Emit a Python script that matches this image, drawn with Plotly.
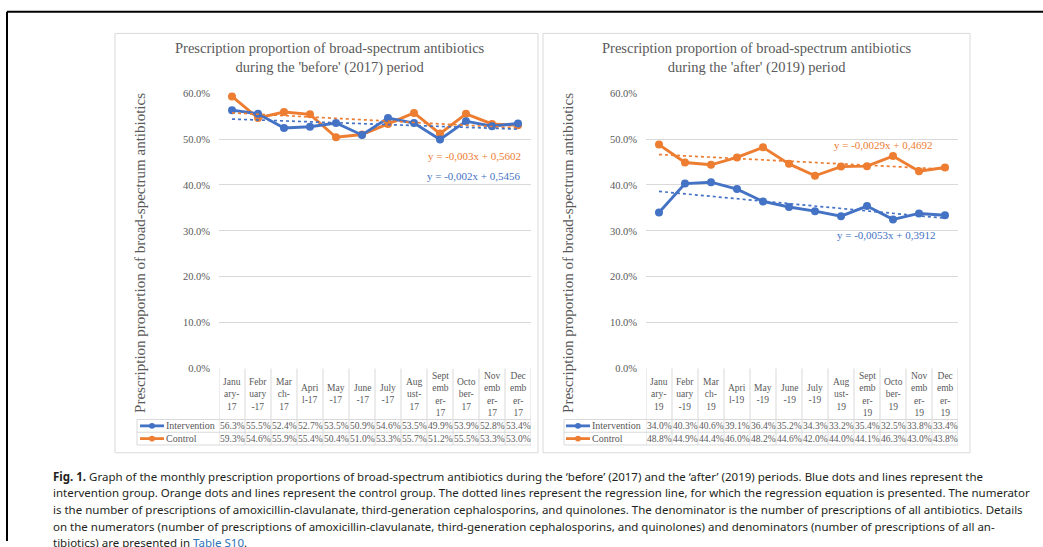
import plotly.graph_objects as go

# ---- data -------------------------------------------------------------
months_2017 = ["January-17", "February-17", "March-17", "April-17", "May-17", "June-17",
               "July-17", "August-17", "September-17", "October-17", "November-17", "December-17"]
months_2019 = [m.replace("-17", "-19") for m in months_2017]

# wrapped header labels as they appear in the data table under each chart
header_2017 = ["Janu<br>ary-<br>17", "Febr<br>uary<br>-17", "Mar<br>ch-<br>17", "Apri<br>l-17",
               "May<br>-17", "June<br>-17", "July<br>-17", "Aug<br>ust-<br>17",
               "Sept<br>emb<br>er-<br>17", "Octo<br>ber-<br>17", "Nov<br>emb<br>er-<br>17",
               "Dec<br>emb<br>er-<br>17"]
header_2019 = [h.replace("17", "19") for h in header_2017]

intervention_2017 = [56.3, 55.5, 52.4, 52.7, 53.5, 50.9, 54.6, 53.5, 49.9, 53.9, 52.8, 53.4]
control_2017 = [59.3, 54.6, 55.9, 55.4, 50.4, 51.0, 53.3, 55.7, 51.2, 55.5, 53.3, 53.0]
intervention_2019 = [34.0, 40.3, 40.6, 39.1, 36.4, 35.2, 34.3, 33.2, 35.4, 32.5, 33.8, 33.4]
control_2019 = [48.8, 44.9, 44.4, 46.0, 48.2, 44.6, 42.0, 44.0, 44.1, 46.3, 43.0, 43.8]

# linear trend coefficients (x = month number 1..12)
trend_2017 = {"Intervention": (-0.002, 0.5456), "Control": (-0.003, 0.5602)}
trend_2019 = {"Intervention": (-0.0053, 0.3912), "Control": (-0.0029, 0.4692)}

titles = ["Prescription proportion of broad-spectrum antibiotics<br>during the 'before' (2017) period",
          "Prescription proportion of broad-spectrum antibiotics<br>during the 'after' (2019) period"]
y_title = "Prescription proportion of broad-spectrum antibiotics"
y_ticks = [0.0, 0.1, 0.2, 0.3, 0.4, 0.5, 0.6]

caption_lines = [
    "<b>Fig. 1.</b> Graph of the monthly prescription proportions of broad-spectrum antibiotics during the \u2018before\u2019 (2017) and the \u2018after\u2019 (2019) periods. Blue dots and lines represent the",
    "intervention group. Orange dots and lines represent the control group. The dotted lines represent the regression line, for which the regression equation is presented. The numerator",
    "is the number of prescriptions of amoxicillin-clavulanate, third-generation cephalosporins, and quinolones. The denominator is the number of prescriptions of all antibiotics. Details",
    "on the numerators (number of prescriptions of amoxicillin-clavulanate, third-generation cephalosporins, and quinolones) and denominators (number of prescriptions of all an-",
    "tibiotics) are presented in <span style='color:#2b72b8'>Table S10</span>.",
]

# ---- styling ----------------------------------------------------------
W, H = 1043, 547
BLUE, ORANGE = "#4472C4", "#ED7D31"
GREY_TXT, GRID = "#595959", "#d9d9d9"
SERIF = "Liberation Serif"


def px(x):
    return x / W


def py(y):
    return 1 - y / H


panels = [
    dict(xa="x", ya="y", months=months_2017, header=header_2017,
         series={"Intervention": intervention_2017, "Control": control_2017},
         trend=trend_2017, x0=219, x1=531, box=(115, 538), key_x=140, title_x=330,
         ytitle_x=140, eq={"Control": (523, 154), "Intervention": (523, 174)}),
    dict(xa="x2", ya="y2", months=months_2019, header=header_2019,
         series={"Intervention": intervention_2019, "Control": control_2019},
         trend=trend_2019, x0=646, x1=958, box=(543, 970), key_x=566, title_x=757,
         ytitle_x=568, eq={"Control": (935, 143), "Intervention": (938, 235)}),
]
colors = {"Intervention": BLUE, "Control": ORANGE}

PLOT_TOP, PLOT_BOT = 90, 371          # 60 % and 0 % lines
HDR_BOT, ROW1_BOT, ROW2_BOT = 423, 436, 449
BOX_TOP, BOX_BOT = 29, 457

fig = go.Figure()
shapes, annotations = [], []
layout_axes = {}

for k, p in enumerate(panels):
    xa, ya = p["xa"], p["ya"]
    suffix = "" if k == 0 else "2"
    xref, yref = xa, ya

    # data series and trend lines
    for name in ["Control", "Intervention"]:
        vals = [v / 100 for v in p["series"][name]]
        fig.add_trace(go.Scatter(
            x=p["months"], y=vals, mode="lines+markers", name=name,
            line=dict(color=colors[name], width=2.9),
            marker=dict(color=colors[name], size=8),
            xaxis=xa, yaxis=ya, showlegend=False, cliponaxis=False))
    for name in ["Control", "Intervention"]:
        slope, icpt = p["trend"][name]
        tvals = [slope * (i + 1) + icpt for i in range(len(p["months"]))]
        fig.add_trace(go.Scatter(
            x=p["months"], y=tvals, mode="lines", name=name + " trend",
            line=dict(color=colors[name], width=1.7, dash="dot"),
            xaxis=xa, yaxis=ya, showlegend=False, hoverinfo="skip"))
        eq_text = f"y = {slope}x + {icpt}".replace(".", ",")
        ex, ey = p["eq"][name]
        annotations.append(dict(
            text=eq_text, x=px(ex), y=py(ey), xref="paper", yref="paper",
            xanchor="right", yanchor="middle", showarrow=False,
            font=dict(family=SERIF, size=11, color=colors[name])))

    layout_axes["xaxis" + suffix] = dict(
        domain=[px(p["x0"]), px(p["x1"])], type="category",
        categoryorder="array", categoryarray=p["months"],
        range=[-0.5, len(p["months"]) - 0.5], showgrid=False,
        showticklabels=False, zeroline=False, showline=False, anchor=ya)
    layout_axes["yaxis" + suffix] = dict(
        domain=[py(PLOT_BOT), py(PLOT_TOP)], range=[0, 0.6],
        tickvals=y_ticks, tickformat=".1%", showgrid=True, gridcolor=GRID,
        gridwidth=1, zeroline=False, showline=False, ticks="",
        ticklabelstandoff=8,
        tickfont=dict(family=SERIF, size=10.5, color=GREY_TXT), anchor=xa)

    # chart area border
    shapes.append(dict(type="rect", xref="paper", yref="paper",
                       x0=px(p["box"][0]), x1=px(p["box"][1]),
                       y0=py(BOX_BOT), y1=py(BOX_TOP),
                       line=dict(color=GRID, width=1)))

    # title and axis title
    annotations.append(dict(
        text=titles[k], x=px(p["title_x"]), y=py(54), xref="paper", yref="paper",
        xanchor="center", yanchor="middle", showarrow=False,
        font=dict(family=SERIF, size=14.5, color=GREY_TXT)))
    annotations.append(dict(
        text=y_title, x=px(p["ytitle_x"]), y=py(253), xref="paper", yref="paper",
        xanchor="center", yanchor="middle", textangle=-90, showarrow=False,
        font=dict(family=SERIF, size=15, color=GREY_TXT)))

    # data table grid
    n = len(p["months"])
    for i in range(n + 1):
        shapes.append(dict(type="line", xref=xref, yref="paper",
                           x0=i - 0.5, x1=i - 0.5, y0=py(PLOT_BOT), y1=py(ROW2_BOT),
                           line=dict(color=GRID, width=1)))
    key_left = p["x0"] - 82
    for yy in [HDR_BOT, ROW1_BOT, ROW2_BOT]:
        shapes.append(dict(type="line", xref="paper", yref="paper",
                           x0=px(key_left), x1=px(p["x1"]), y0=py(yy), y1=py(yy),
                           line=dict(color=GRID, width=1)))
    shapes.append(dict(type="line", xref="paper", yref="paper",
                       x0=px(key_left), x1=px(key_left), y0=py(HDR_BOT), y1=py(ROW2_BOT),
                       line=dict(color=GRID, width=1)))

    # header cells
    for m, h in zip(p["months"], p["header"]):
        annotations.append(dict(
            text=h, x=m, y=py((PLOT_BOT + HDR_BOT) / 2), xref=xref, yref="paper",
            xanchor="center", yanchor="middle", showarrow=False,
            font=dict(family=SERIF, size=9.5, color=GREY_TXT)))

    # value rows with legend keys
    for name, (ra, rb) in [("Intervention", (HDR_BOT, ROW1_BOT)),
                           ("Control", (ROW1_BOT, ROW2_BOT))]:
        yc = (ra + rb) / 2
        for m, v in zip(p["months"], p["series"][name]):
            annotations.append(dict(
                text=f"{v:.1f}%", x=m, y=py(yc), xref=xref, yref="paper",
                xanchor="center", yanchor="middle", showarrow=False,
                font=dict(family=SERIF, size=9.5, color=GREY_TXT)))
        kx = p["key_x"]
        shapes.append(dict(type="line", xref="paper", yref="paper",
                           x0=px(kx), x1=px(kx + 24), y0=py(yc), y1=py(yc),
                           line=dict(color=colors[name], width=2.8)))
        shapes.append(dict(type="circle", xref="paper", yref="paper",
                           x0=px(kx + 9), x1=px(kx + 15),
                           y0=py(yc + 3), y1=py(yc - 3),
                           fillcolor=colors[name], line=dict(width=0)))
        annotations.append(dict(
            text=name, x=px(kx + 24), y=py(yc), xref="paper", yref="paper",
            xanchor="left", yanchor="middle", showarrow=False,
            font=dict(family=SERIF, size=10, color=GREY_TXT)))

# page frame lines
shapes.append(dict(type="line", xref="paper", yref="paper", x0=px(7), x1=1,
                   y0=py(7), y1=py(7), line=dict(color="black", width=2)))
shapes.append(dict(type="line", xref="paper", yref="paper", x0=px(7), x1=px(7),
                   y0=py(7), y1=0, line=dict(color="black", width=2)))

# caption
for j, line in enumerate(caption_lines):
    annotations.append(dict(
        text=line, x=px(51), y=py(481 + 17 * j), xref="paper", yref="paper",
        xanchor="left", yanchor="middle", showarrow=False,
        font=dict(family="Noto Sans", size=11.5, color="#231f20")))

fig.update_layout(
    width=W, height=H, autosize=False,
    margin=dict(l=0, r=0, t=0, b=0, pad=0),
    paper_bgcolor="white", plot_bgcolor="white",
    shapes=shapes, annotations=annotations, **layout_axes)

fig.write_html("out.html")
